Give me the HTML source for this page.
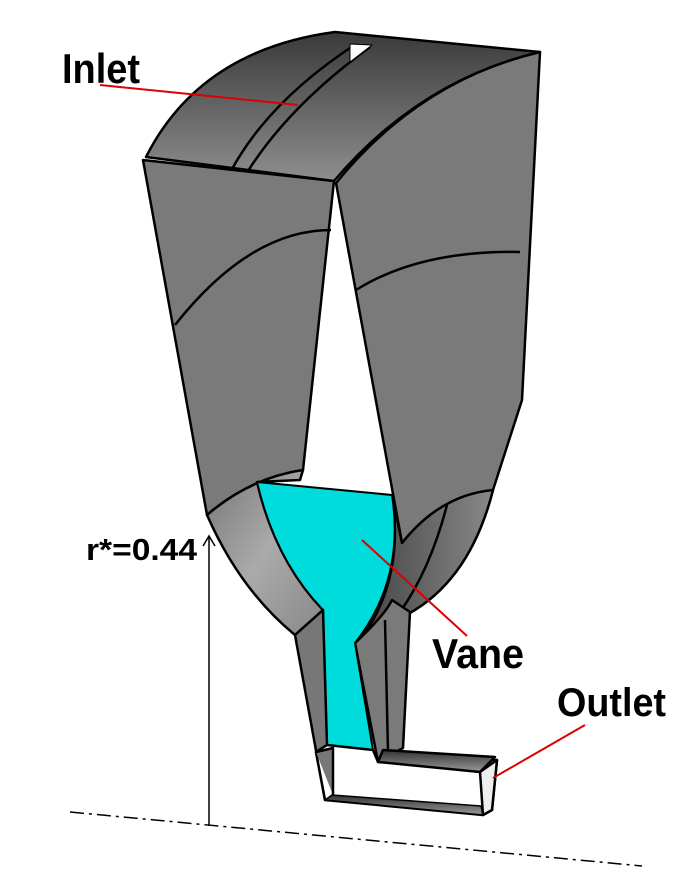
<!DOCTYPE html>
<html><head><meta charset="utf-8"><style>
html,body{margin:0;padding:0;background:#fff;}
svg{display:block;}
text{font-family:"Liberation Sans",sans-serif;font-weight:bold;fill:#000;}
</style></head><body>
<svg width="678" height="879" viewBox="0 0 678 879" xmlns="http://www.w3.org/2000/svg">
<defs>
<linearGradient id="top" x1="0" y1="0" x2="0" y2="1">
<stop offset="0" stop-color="#3a3a3a"/><stop offset="1" stop-color="#8e8e8e"/></linearGradient>
<linearGradient id="lb" x1="0" y1="0" x2="1" y2="1">
<stop offset="0" stop-color="#777"/><stop offset="0.5" stop-color="#aaa"/><stop offset="1" stop-color="#888"/></linearGradient>
<linearGradient id="rb" x1="0" y1="0" x2="1" y2="0">
<stop offset="0" stop-color="#444"/><stop offset="0.5" stop-color="#666"/><stop offset="1" stop-color="#888"/></linearGradient>
<linearGradient id="bar" x1="0" y1="0" x2="0" y2="1">
<stop offset="0" stop-color="#333"/><stop offset="1" stop-color="#999"/></linearGradient>
</defs>
<g stroke="#000" stroke-width="2.5" stroke-linejoin="round">
<!-- right piece -->
<path d="M336,183 Q420,80 540,52 L522,400 L493,490 Q470,580 408,614 L402,543 Z" fill="#7a7a7a"/>
<path d="M356,290 Q420,250 520,252" fill="none"/>
<path d="M392,495 L402,543 Q440,495 493,490 Q470,580 408,614 L360,640 Q405,580 392,495 Z" fill="url(#rb)"/>
<path d="M447,505 Q430,570 400,612" fill="none"/>
<!-- left piece -->
<path d="M143,160 L334,181 L303,470 Q250,478 207,515 Z" fill="#7a7a7a"/>
<path d="M175,325 Q250,230 331,230" fill="none"/>
<!-- top -->
<path d="M146,157 Q200,50 335,32 L540,52 Q420,80 334,181 Z" fill="url(#top)"/>
<path d="M232,169 Q270,100 356,44" fill="none"/>
<path d="M248,171 Q290,105 370,47" fill="none"/>
<path d="M350,44 L372,45 L350,62 Z" fill="#fff" stroke-width="1"/>
<!-- left bowl -->
<path d="M207,515 Q250,478 303,470 L300,480 L257,482 Q275,560 323,610 L295,635 Q240,590 207,515 Z" fill="url(#lb)"/>
<!-- right stem -->
<path d="M355,643 Q385,615 392,600 L410,612 L403,748 L378,762 Z" fill="#7a7a7a"/>
<path d="M385,620 L388,752" fill="none"/>
<!-- cyan vane -->
<path d="M257,482 L392,495 Q405,580 355,643 L373,750 L327,745 L323,610 Q275,560 257,482 Z" fill="#00dcdc" stroke-width="2"/>
<!-- left stem -->
<path d="M295,635 L323,610 L327,745 L316,752 L325,800 Z" fill="#777"/>
<!-- outlet -->
<path d="M325,800 L316,752 L327,745 L373,750 L378,762 L497,760 L492,810 L483,815 Z" fill="#fff"/>
<path d="M378,762 L383,750 L495,757 L480,772 Z" fill="url(#bar)"/>
<path d="M325,800 L483,815 L481,806 L332,795 Z" fill="url(#bar)" stroke-width="1.5"/>
<path d="M316,752 L333,748 L333,795" fill="#777"/>
<path d="M480,772 L497,760 L492,810 L483,815 Z" fill="#eee"/>
</g>
<!-- axis -->
<line x1="209" y1="536" x2="209" y2="826" stroke="#000" stroke-width="1.5"/>
<path d="M203,546 L209,536 L215,546" fill="none" stroke="#000" stroke-width="1.5"/>
<line x1="70" y1="812" x2="642" y2="866" stroke="#000" stroke-width="1.5" stroke-dasharray="14,5,3,5"/>
<!-- labels -->
<line x1="100" y1="85" x2="298" y2="105" stroke="#d00" stroke-width="2"/>
<line x1="362" y1="540" x2="467" y2="636" stroke="#d00" stroke-width="2"/>
<line x1="585" y1="725" x2="493" y2="778" stroke="#d00" stroke-width="2"/>
<text x="62" y="83" font-size="42" textLength="78" lengthAdjust="spacingAndGlyphs">Inlet</text>
<text x="86" y="560" font-size="31" textLength="111" lengthAdjust="spacingAndGlyphs">r*=0.44</text>
<text x="432" y="668" font-size="42" textLength="92" lengthAdjust="spacingAndGlyphs">Vane</text>
<text x="557" y="716" font-size="40" textLength="109" lengthAdjust="spacingAndGlyphs">Outlet</text>
</svg>
</body></html>
